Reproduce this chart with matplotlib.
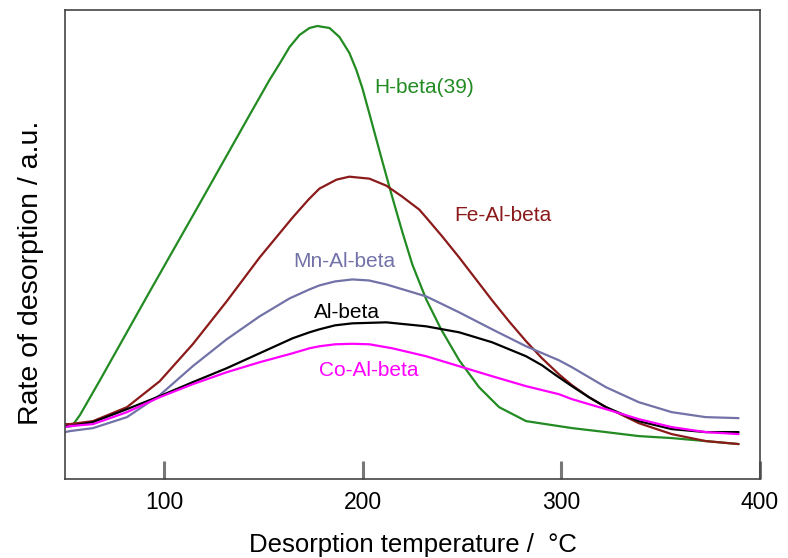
import matplotlib.pyplot as plt

plt.rcParams['font.family'] = ['Liberation Sans', 'DejaVu Sans']

# H-beta(39)
temp_h = [50, 53.5, 57.5, 67.6, 92.7, 117.8, 143.0, 153.0, 158.0, 163.1, 168.1,
          173.1, 177.1, 183.2, 188.2, 193.2, 196.7, 199.7, 203.3, 209.3, 214.3,
          219.8, 224.9, 231.9, 239.4, 248.5, 258.5, 268.6, 282.2, 305.3, 322.4,
          338.9, 355.5, 372.6, 389.2]
rate_h = [53, 53, 64, 99, 188, 276, 365, 400, 416, 433, 445,
          452, 454, 452, 443, 427, 410, 392, 366, 322, 286,
          248, 215, 180, 150, 119, 92, 72, 58, 51, 47,
          43, 41, 38, 35]

# Fe-Al-beta
temp_fe = [50, 52.5, 64.1, 81.2, 97.7, 114.3, 131.4, 148.0, 164.6, 172.6,
           178.1, 186.7, 193.2, 203.3, 211.8, 219.8, 228.4, 231.9, 240.0, 248.5,
           257.0, 265.1, 273.6, 282.2, 290.2, 298.7, 305.3, 313.8, 322.4, 338.9,
           355.5, 372.6, 389.2]
rate_fe = [55, 55, 58, 72, 98, 135, 178, 222, 262, 280,
           291, 300, 303, 301, 294, 283, 270, 262, 243, 222,
           200, 179, 158, 138, 121, 105, 94, 82, 72, 56,
           45, 38, 35]

# Mn-Al-beta
temp_mn = [50, 52.5, 64.1, 81.2, 97.7, 114.3, 131.4, 148.0, 163.1, 173.1,
           178.1, 186.0, 194.7, 203.0, 211.8, 231.9, 248.5, 265.1, 282.2, 298.7,
           305.3, 322.4, 338.9, 355.5, 372.6, 389.2]
rate_mn = [47, 48, 51, 62, 84, 113, 140, 163, 181, 190,
           194, 198, 200, 199, 195, 183, 167, 150, 133, 119,
           112, 92, 77, 67, 62, 61]

# Al-beta
temp_al = [50, 52.5, 64.1, 81.2, 97.7, 114.3, 131.4, 148.0, 164.6, 173.1,
           178.1, 186.0, 194.7, 211.8, 231.9, 248.5, 265.1, 282.2, 290.2, 297.2,
           305.3, 313.8, 322.4, 338.9, 355.5, 372.6, 389.2]
rate_al = [53, 53, 57, 70, 83, 97, 111, 126, 141, 147,
           150, 154, 156, 157, 153, 147, 137, 123, 114, 104,
           93, 82, 72, 58, 50, 47, 47]

# Co-Al-beta
temp_co = [50, 52.5, 64.1, 81.2, 97.7, 114.3, 131.4, 148.0, 164.6, 173.1,
           178.1, 186.0, 194.7, 203.3, 214.8, 231.9, 248.5, 265.1, 282.2, 298.7,
           305.3, 322.4, 338.9, 355.5, 372.6, 389.2]
rate_co = [52, 53, 55, 67, 82, 95, 107, 117, 126, 131,
           133, 135, 135.5, 135, 131, 123, 113, 103, 93, 85,
           80, 70, 60, 52, 47, 45]

fig = plt.figure(figsize=(7.88, 5.58), dpi=100)
ax = fig.add_axes([0.0825, 0.1416, 0.882, 0.8404])

kw = dict(lw=1.6, solid_joinstyle='round', solid_capstyle='round')
ax.plot(temp_h, rate_h, color='#228b22', **kw)
ax.plot(temp_fe, rate_fe, color='#8b1a1a', **kw)
ax.plot(temp_mn, rate_mn, color='#7272a8', **kw)
ax.plot(temp_al, rate_al, color='black', **kw)
ax.plot(temp_co, rate_co, color='#ff00ff', **kw)

ax.text(231, 392, 'H-beta(39)', color='#228b22', fontsize=15, ha='center', va='center')
ax.text(270.5, 264, 'Fe-Al-beta', color='#8b1a1a', fontsize=15, ha='center', va='center')
ax.text(190.5, 218, 'Mn-Al-beta', color='#7272a8', fontsize=15, ha='center', va='center')
ax.text(192, 167, 'Al-beta', color='black', fontsize=15, ha='center', va='center')
ax.text(203, 109, 'Co-Al-beta', color='#ff00ff', fontsize=15, ha='center', va='center')

ax.set_xlim(50, 399)
ax.set_ylim(0, 470)
ax.set_xticks([100, 200, 300, 400])
ax.set_yticks([])
ax.tick_params(axis='x', direction='in', length=13, width=2.2, color='#777777',
               pad=9, labelsize=16.5)
for s in ax.spines.values():
    s.set_color('#444444')
    s.set_linewidth(1.2)

ax.set_xlabel('Desorption temperature /  °C', fontsize=18.5, labelpad=13)
ax.set_ylabel('Rate of desorption / a.u.', fontsize=20.5)
ax.yaxis.set_label_coords(-0.03, 0.44)

fig.savefig('out.png', dpi=100)
